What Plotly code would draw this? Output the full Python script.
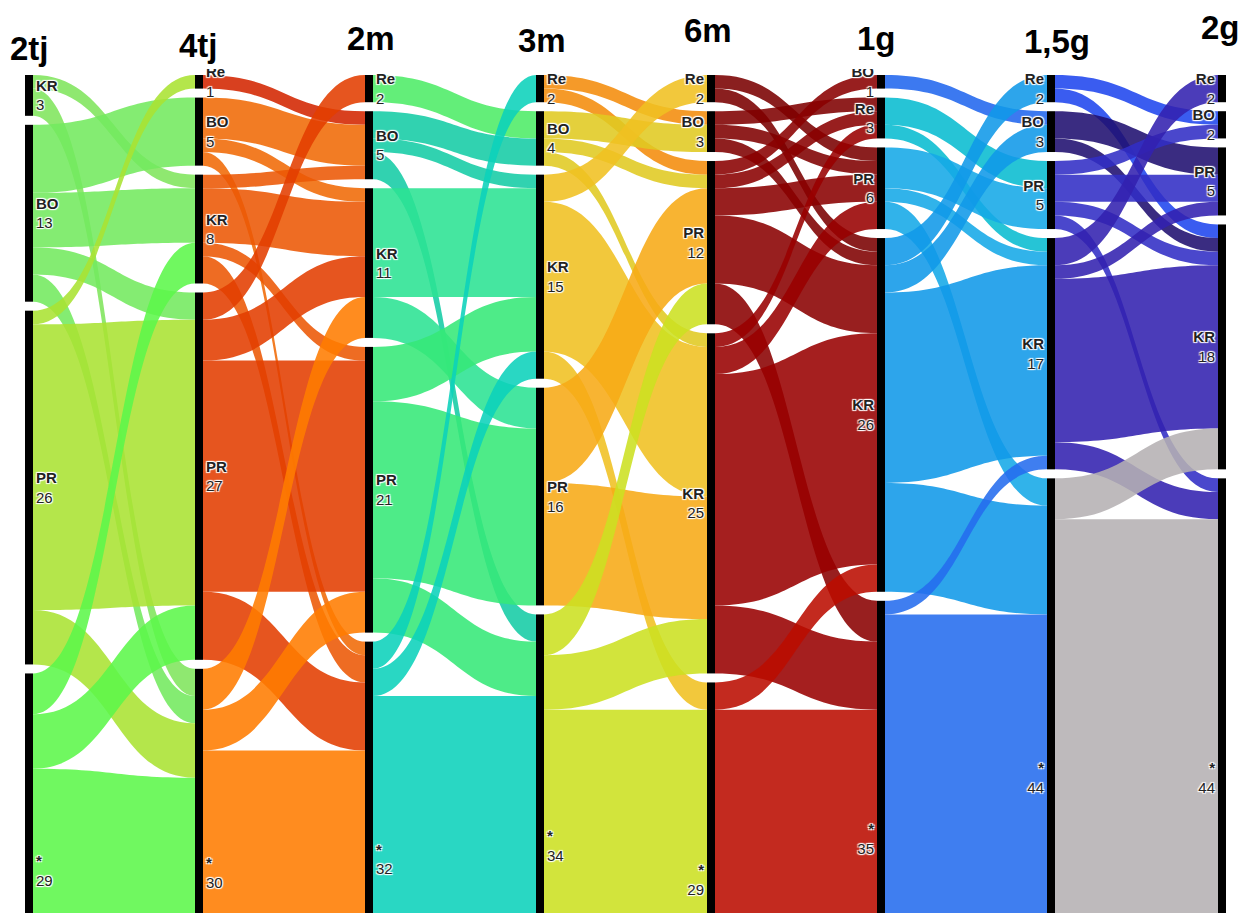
import plotly.graph_objects as go

# follow-up stages (columns, left to right)
stages = ["2tj", "4tj", "2m", "3m", "6m", "1g", "1,5g", "2g"]

# node order inside each column (top to bottom) and patient counts
cats = [
    ["KR", "BO", "PR", "*"],
    ["Re", "BO", "KR", "PR", "*"],
    ["Re", "BO", "KR", "PR", "*"],
    ["Re", "BO", "KR", "PR", "*"],
    ["Re", "BO", "PR", "KR", "*"],
    ["BO", "Re", "PR", "KR", "*"],
    ["Re", "BO", "PR", "KR", "*"],
    ["Re", "BO", "PR", "KR", "*"],
]
counts = [
    [3, 13, 26, 29],
    [1, 5, 8, 27, 30],
    [2, 5, 11, 21, 32],
    [2, 4, 15, 16, 34],
    [2, 3, 12, 25, 29],
    [1, 3, 6, 26, 35],
    [2, 3, 5, 17, 44],
    [2, 2, 5, 18, 44],
]

# transitions between consecutive stages: (from, to, n)
flows_2tj_4tj = [
    ("KR", "KR", 1), ("KR", "*", 2),
    ("BO", "BO", 5), ("BO", "KR", 4), ("BO", "PR", 2), ("BO", "*", 2),
    ("PR", "Re", 1), ("PR", "PR", 21), ("PR", "*", 4),
    ("*", "KR", 3), ("*", "PR", 4), ("*", "*", 22),
]
flows_4tj_2m = [
    ("Re", "BO", 1),
    ("BO", "BO", 3), ("BO", "KR", 1), ("BO", "*", 1),
    ("KR", "BO", 1), ("KR", "KR", 4), ("KR", "PR", 1), ("KR", "*", 2),
    ("PR", "Re", 2), ("PR", "KR", 3), ("PR", "PR", 17), ("PR", "*", 5),
    ("*", "KR", 3), ("*", "PR", 3), ("*", "*", 24),
]
flows_2m_3m = [
    ("Re", "BO", 2),
    ("BO", "BO", 2), ("BO", "KR", 1), ("BO", "*", 2),
    ("KR", "KR", 8), ("KR", "PR", 3),
    ("PR", "KR", 4), ("PR", "PR", 13), ("PR", "*", 4),
    ("*", "Re", 2), ("*", "KR", 2), ("*", "*", 28),
]
flows_3m_6m = [
    ("Re", "BO", 1), ("Re", "PR", 1),
    ("BO", "BO", 2), ("BO", "PR", 1), ("BO", "KR", 1),
    ("KR", "Re", 2), ("KR", "KR", 11), ("KR", "*", 2),
    ("PR", "PR", 7), ("PR", "KR", 9),
    ("*", "PR", 3), ("*", "KR", 4), ("*", "*", 27),
]
flows_6m_1g = [
    ("Re", "PR", 1), ("Re", "KR", 1),
    ("BO", "Re", 1), ("BO", "PR", 1), ("BO", "KR", 1),
    ("PR", "BO", 1), ("PR", "Re", 1), ("PR", "PR", 2), ("PR", "KR", 5), ("PR", "*", 3),
    ("KR", "Re", 1), ("KR", "PR", 2), ("KR", "KR", 17), ("KR", "*", 5),
    ("*", "KR", 2), ("*", "*", 27),
]
flows_1g_15g = [
    ("BO", "BO", 1),
    ("Re", "PR", 2), ("Re", "KR", 1),
    ("PR", "PR", 3), ("PR", "KR", 1), ("PR", "*", 2),
    ("KR", "Re", 2), ("KR", "BO", 2), ("KR", "KR", 14), ("KR", "*", 8),
    ("*", "KR", 1), ("*", "*", 34),
]
flows_15g_2g = [
    ("Re", "BO", 1), ("Re", "KR", 1),
    ("BO", "PR", 2), ("BO", "KR", 1),
    ("PR", "BO", 1), ("PR", "PR", 2), ("PR", "KR", 1), ("PR", "*", 1),
    ("KR", "Re", 2), ("KR", "PR", 1), ("KR", "KR", 12), ("KR", "*", 2),
    ("*", "KR", 3), ("*", "*", 41),
]
transitions = [flows_2tj_4tj, flows_4tj_2m, flows_2m_3m, flows_3m_6m,
               flows_6m_1g, flows_1g_15g, flows_15g_2g]

# link colours as they look on white, one palette per starting stage
link_colors = [
    {"KR": "#8fe870", "BO": "#84ec72", "PR": "#b4e64b", "*": "#70f860"},
    {"Re": "#d8401a", "BO": "#f27c24", "KR": "#ee6c22", "PR": "#e6551e", "*": "#ff8c1e"},
    {"Re": "#62ee78", "BO": "#30d2b0", "KR": "#44e6a0", "PR": "#4eeb87", "*": "#28d7c3"},
    {"Re": "#f59a28", "BO": "#e4d03c", "KR": "#f2c83c", "PR": "#f8b432", "*": "#d2e43c"},
    {"Re": "#8a1408", "BO": "#8e1408", "PR": "#981408", "KR": "#a51408", "*": "#c32a10"},
    {"BO": "#3c78f0", "Re": "#26c4d6", "PR": "#30b2ea", "KR": "#2da5eb", "*": "#3e7ef0"},
    {"Re": "#3a5cf0", "BO": "#3a2c80", "PR": "#4a46cc", "KR": "#4b3cb9", "*": "#bebabc"},
]
ALPHA = 0.88

# layout (pixels)
FIG_W, FIG_H = 1241, 1097
TOP, BOTTOM = 75, 20
PLOT_H = FIG_H - TOP - BOTTOM
PAD, THICK = 9, 8
col_px = [29, 199, 369, 540, 711, 881, 1051, 1222]
title_px = [(29, 48), (198, 45), (371, 39), (542, 41), (708, 30), (876, 39), (1057, 42), (1220, 28)]
FIRST_LEFT_LABEL = 4  # from this column on, labels sit left of the bar
LABEL_FONT = dict(family="Liberation Sans, Arial, sans-serif", size=15, color="#222")
CLEAR = "rgba(0,0,0,0)"


def seen_rgba(hex_color, a):
    # rgba that shows up as hex_color when laid over white
    h = hex_color.lstrip("#")
    rgb = [int(h[i:i + 2], 16) for i in (0, 2, 4)]
    base = [max(0, min(255, round((v - (1 - a) * 255) / a))) for v in rgb]
    return f"rgba({base[0]},{base[1]},{base[2]},{a})"


# d3-sankey scale: the fullest column sets px per patient
ky = min((PLOT_H - PAD * (len(c) - 1)) / sum(c) for c in counts)

node_index = {}
labels, node_x, node_y = [], [], []
col_labels = {}
for s, (cs, ns) in enumerate(zip(cats, counts)):
    y0 = 0.0
    col_labels[s] = []
    for cat, n in zip(cs, ns):
        text = f"<b>{cat}</b><br>{n}"
        cy = (y0 + n * ky / 2) / PLOT_H
        node_index[(s, cat)] = len(labels)
        labels.append(text if s < FIRST_LEFT_LABEL else "")
        node_x.append(col_px[s] / FIG_W)
        node_y.append(cy)
        col_labels[s].append((text, cy, n))
        y0 += n * ky + PAD

src, tgt, val, col = [], [], [], []
for s, flows in enumerate(transitions):
    for a, b, n in flows:
        src.append(node_index[(s, a)])
        tgt.append(node_index[(s + 1, b)])
        val.append(n)
        col.append(seen_rgba(link_colors[s][a], ALPHA))

fig = go.Figure(go.Sankey(
    arrangement="fixed",
    domain=dict(x=[0, 1], y=[0, 1]),
    node=dict(label=labels, x=node_x, y=node_y, pad=PAD, thickness=THICK,
              color="black", line=dict(width=0)),
    link=dict(source=src, target=tgt, value=val, color=col),
    textfont=LABEL_FONT,
))

# label-only sankeys for the right half: each ends at its column, so its labels flip left
for s in range(FIRST_LEFT_LABEL, len(stages)):
    right_px = col_px[s] + THICK / 2
    items = col_labels[s]
    fig.add_trace(go.Sankey(
        arrangement="fixed",
        domain=dict(x=[0, right_px / FIG_W], y=[0, 1]),
        hoverinfo="skip",
        node=dict(label=[""] + [t for t, _, _ in items],
                  x=[0.5] + [1 - (THICK / 2) / right_px] * len(items),
                  y=[0.5] + [cy for _, cy, _ in items],
                  pad=1, thickness=THICK, color=CLEAR, line=dict(width=0),
                  hoverinfo="skip"),
        link=dict(source=[0] * len(items), target=list(range(1, len(items) + 1)),
                  value=[n for _, _, n in items], color=CLEAR, hoverinfo="skip"),
        textfont=LABEL_FONT,
    ))

# white band over the top, the column titles sit on it
fig.add_shape(type="rect", xref="paper", yref="paper",
              x0=-0.01, x1=1.01, y0=1 + (TOP - 69) / PLOT_H, y1=1 + TOP / PLOT_H + 0.01,
              fillcolor="white", line=dict(width=0), layer="above")

for name, (px, py) in zip(stages, title_px):
    fig.add_annotation(
        text=f"<b>{name}</b>", showarrow=False,
        xref="paper", yref="paper",
        x=px / FIG_W, y=1 + (TOP - py) / PLOT_H,
        xanchor="center", yanchor="middle",
        font=dict(family="Liberation Sans, Arial, sans-serif", size=33, color="black"),
    )

fig.update_layout(
    width=FIG_W, height=FIG_H,
    margin=dict(l=0, r=0, t=TOP, b=BOTTOM),
    paper_bgcolor="white",
    plot_bgcolor="white",
)

fig.write_html(
    "out.html",
    config={"displayModeBar": False},
    post_script="document.body.style.margin='0';"
                "document.documentElement.style.overflow='hidden';"
                "document.body.style.overflow='hidden';",
)
